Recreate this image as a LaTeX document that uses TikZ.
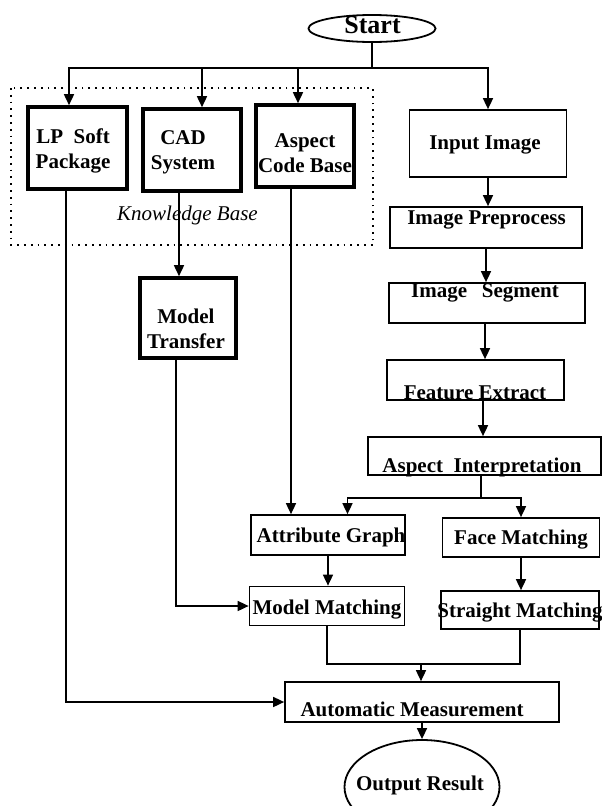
\documentclass[tikz,border=0pt]{standalone}
\usepackage{fontspec}
\setmainfont{Liberation Serif}
\usepackage{tikz}
\usetikzlibrary{shapes,arrows,positioning,calc,arrows.meta}

\tikzset{
    kbox/.style={draw, line width=3.6pt, inner sep=0pt},
    tbox/.style={draw, line width=1.7pt, inner sep=0pt},
    oval/.style={draw, ellipse, line width=1.8pt, inner sep=0pt},
    txt/.style={font=\bfseries\fontsize{21}{25}\selectfont, align=center, inner sep=0pt},
    line/.style={line width=1.6pt},
    arr/.style={line, -{Triangle[length=11pt,width=10pt]}},
}

\begin{document}
\begin{tikzpicture}[x=1pt, y=-1pt]
    \clip (0,0) rectangle (602,806);

    % Knowledge base frame
    \draw[line width=1.5pt, dash pattern=on 1.8pt off 5pt] (11,88) rectangle (373,245);
    \node[font=\itshape\fontsize{21}{25}\selectfont, inner sep=0pt] (kb-t) at (187.5,215) {Knowledge Base};

    % Boxes
    \node[oval, minimum width=127pt, minimum height=27pt] (start) at (372,28.5) {};
    \node[kbox, minimum width=99pt, minimum height=82pt] (lp) at (77.5,148) {};
    \node[kbox, minimum width=98pt, minimum height=82pt] (cad) at (192,150) {};
    \node[kbox, minimum width=98pt, minimum height=82pt] (acb) at (305,146) {};
    \node[kbox, minimum width=96pt, minimum height=80pt] (mt) at (188,318) {};
    \node[tbox, minimum width=157pt, minimum height=67pt] (input) at (488,143.5) {};
    \node[tbox, minimum width=192pt, minimum height=41pt] (prep) at (486,227.5) {};
    \node[tbox, minimum width=196pt, minimum height=40pt] (seg) at (487,303) {};
    \node[tbox, minimum width=177pt, minimum height=40pt] (fe) at (475.5,380) {};
    \node[tbox, minimum width=233pt, minimum height=38pt] (ai) at (484.5,456) {};
    \node[tbox, minimum width=154pt, minimum height=40pt] (ag) at (328,535) {};
    \node[tbox, minimum width=157pt, minimum height=39pt] (fm) at (521,537.5) {};
    \node[tbox, minimum width=155pt, minimum height=39pt] (mm) at (327,606) {};
    \node[tbox, minimum width=158pt, minimum height=38pt] (sm) at (520,610) {};
    \node[tbox, minimum width=274pt, minimum height=40pt] (am) at (422,702) {};
    \node[oval, minimum width=155pt, minimum height=94pt] (out) at (422,787) {};

    % Texts
    \node[txt, font=\bfseries\fontsize{26}{30}\selectfont] (start-t) at (372.5,25) {Start};
    \node[txt] (lp-t) at (73,150.5) {LP~~Soft\\Package};
    \node[txt] (cad-t) at (183,152.5) {CAD\\System};
    \node[txt] (acb-t) at (305,153.5) {Aspect\\Code Base};
    \node[txt] (mt-t) at (186,328.5) {Model\\Transfer};
    \node[txt] (input-t) at (485,145) {Input Image};
    \node[txt] (prep-t) at (486.5,220) {Image Preprocess};
    \node[txt] (seg-t) at (485,293) {Image\hspace{0.7em}Segment};
    \node[txt] (fe-t) at (475,393) {Feature Extract};
    \node[txt] (ai-t) at (482,467) {Aspect~~Interpretation};
    \node[txt] (ag-t) at (331,537) {Attribute Graph};
    \node[txt] (fm-t) at (521,540) {Face Matching};
    \node[txt] (mm-t) at (327,610) {Model Matching};
    \node[txt] (sm-t) at (520,613) {Straight Matching};
    \node[txt] (am-t) at (412,709) {Automatic Measurement};
    \node[txt] (out-t) at (420,785) {Output Result};

    % Start splits to the knowledge base and the image chain
    \coordinate (split) at (372,68);
    \draw[line] (start.south) -- (split);
    \draw[arr] (split) -| ([xshift=-8.5pt]lp.north);
    \draw[arr] (split) -| ([xshift=10pt]cad.north);
    \draw[arr] (split) -| ([xshift=-7pt]acb.north);
    \draw[arr] (split) -| (input.north);

    % Image chain
    \draw[arr] (input.south) -- (input.south |- prep.north);
    \draw[arr] (prep.south) -- (prep.south |- seg.north);
    \draw[arr] ([xshift=-2pt]seg.south) -- ([xshift=-2pt]seg.south |- fe.north);
    \draw[arr] ([xshift=7.5pt]fe.south) -- ([xshift=7.5pt]fe.south |- ai.north);

    \coordinate (fork) at (481,498);
    \draw[line] (ai.south -| fork) -- (fork);
    \draw[arr] (fork) -| ([xshift=19.5pt]ag.north);
    \draw[arr] (fork) -| (fm.north);
    \draw[arr] (ag.south) -- (ag.south |- mm.north);
    \draw[arr] (fm.south) -- (fm.south |- sm.north);

    % Knowledge base links
    \draw[arr] ([xshift=-13pt]cad.south) -- ([xshift=-13pt]cad.south |- mt.north);
    \draw[arr] ([xshift=-12pt]mt.south) |- (mm.west);
    \draw[arr] ([xshift=-14pt]acb.south) -- ([xshift=-14pt]acb.south |- ag.north);
    \draw[arr] ([xshift=-11.5pt]lp.south) |- (am.west);

    % Merge into measurement
    \coordinate (join) at (421,664);
    \draw[line] (mm.south) |- (join) -| (sm.south);
    \draw[arr] (join) -- (join |- am.north);
    \draw[arr] (am.south) -- (am.south |- out.north);
\end{tikzpicture}
\end{document}
